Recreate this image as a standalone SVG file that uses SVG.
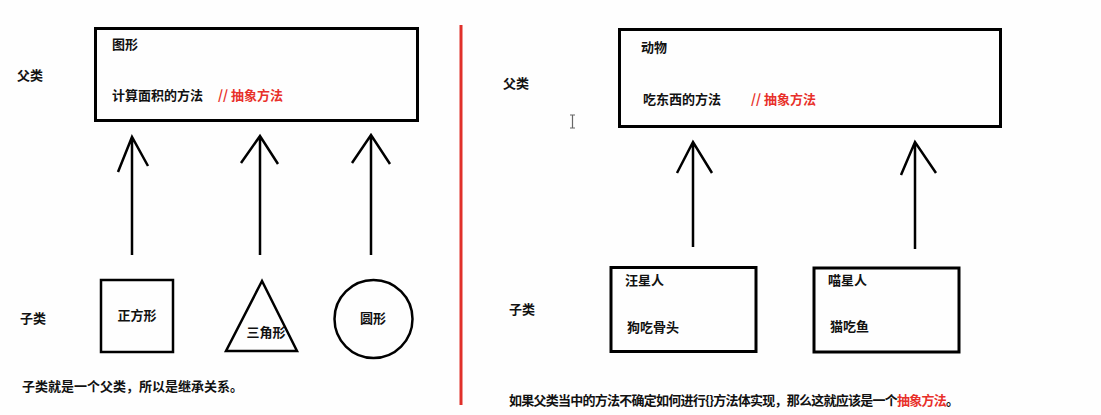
<svg xmlns="http://www.w3.org/2000/svg" width="1101" height="415" viewBox="0 0 1101 415">
  <style>
    text { font-family: "Noto Sans CJK SC", "Noto Sans", sans-serif; font-size: 13px; font-weight: bold; fill: #111; }
    .red { fill: #e8302a; }
    .box { fill: none; stroke: #000; stroke-width: 3; }
    .shape { fill: none; stroke: #000; stroke-width: 2.5; }
    .arrow { fill: none; stroke: #000; stroke-width: 2.5; stroke-linecap: butt; stroke-linejoin: miter; }
  </style>
  <rect width="1101" height="415" fill="#fefefe"/>

  <!-- left panel: shapes -->
  <text x="17" y="80">父类</text>
  <text x="20" y="323">子类</text>

  <g id="shape-parent">
    <rect class="box" x="95.5" y="28.5" width="322" height="92"/>
    <text x="112" y="49">图形</text>
    <text x="112" y="100">计算面积的方法</text>
    <text class="red" x="218" y="100">// 抽象方法</text>
  </g>

  <g id="square">
    <rect class="shape" x="101" y="280" width="72" height="72"/>
    <text x="137" y="320" text-anchor="middle">正方形</text>
  </g>

  <g id="triangle">
    <polygon class="shape" points="262,281 226,351 297,351"/>
    <text x="266" y="337" text-anchor="middle">三角形</text>
  </g>

  <g id="circle">
    <circle class="shape" cx="373.5" cy="319" r="39"/>
    <text x="373" y="323" text-anchor="middle">圆形</text>
  </g>

  <g id="left-connectors">
    <path class="arrow" d="M132,255 V137 M118,172 L132,137 L148,166"/>
    <path class="arrow" d="M260,255 V136 M241,163 L260,136 L278,164"/>
    <path class="arrow" d="M371,255 V135 M352,163 L371,135 L390,164"/>
  </g>

  <text x="22" y="391">子类就是一个父类，所以是继承关系。</text>

  <!-- divider -->
  <line x1="461" y1="25" x2="461" y2="405" stroke="#e0302a" stroke-width="3"/>

  <!-- right panel: animals -->
  <text x="503" y="88">父类</text>
  <text x="509" y="314">子类</text>

  <g id="animal-parent">
    <rect class="box" x="619.5" y="29.5" width="381" height="97"/>
    <text x="641" y="52">动物</text>
    <text x="643" y="104">吃东西的方法</text>
    <text class="red" x="751" y="104">// 抽象方法</text>
  </g>

  <g id="dog">
    <rect class="box" x="611" y="267.5" width="145" height="84"/>
    <text x="625" y="285">汪星人</text>
    <text x="627" y="332">狗吃骨头</text>
  </g>

  <g id="cat">
    <rect class="box" x="814" y="268" width="145" height="84"/>
    <text x="828" y="285">喵星人</text>
    <text x="830" y="331">猫吃鱼</text>
  </g>

  <g id="right-connectors">
    <path class="arrow" d="M693,247 V142 M677,173 L693,142 L712,173"/>
    <path class="arrow" d="M915,249 V142 M901,175 L915,142 L936,173"/>
  </g>

  <!-- text cursor -->
  <path d="M570,115 H575 M572.5,115 V128 M570,128 H575" fill="none" stroke="#666" stroke-width="1.2"/>

  <text x="509" y="405" font-size="12" letter-spacing="-0.75">如果父类当中的方法不确定如何进行{}方法体实现，那么这就应该是一个<tspan class="red">抽象方法</tspan>。</text>
</svg>
